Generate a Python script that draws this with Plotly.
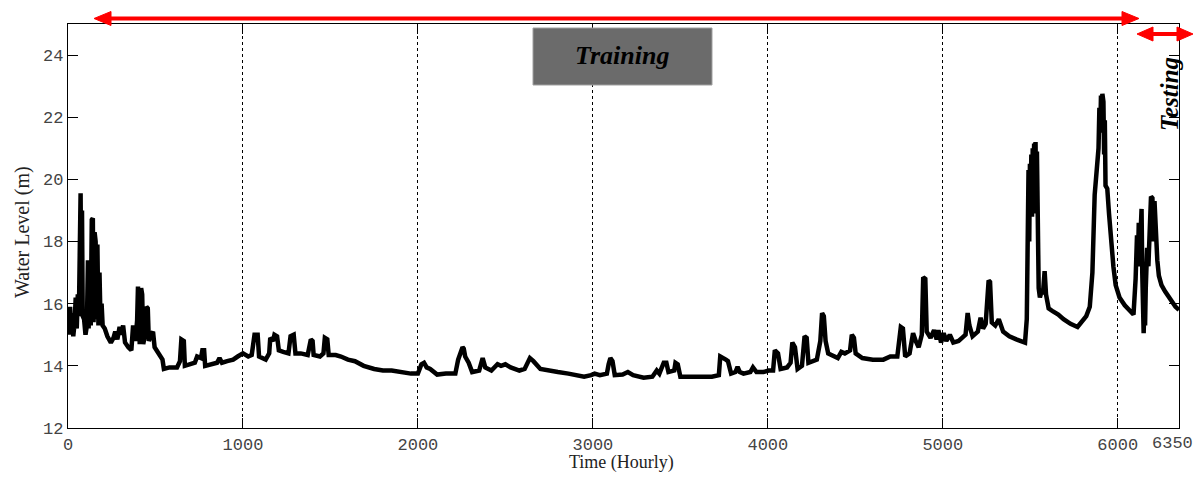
import plotly.graph_objects as go

# ---- data (hour, water level in m) ----
hours = [0, 6, 12, 18, 24, 30, 38, 44, 50, 56, 62, 66, 72, 76, 80, 84, 92, 100, 108, 114,
         118, 124, 130, 136, 142, 146, 152, 158, 162, 168, 174, 180, 186, 192, 198, 210, 225,
         245, 260, 270, 282, 295, 305, 315, 326, 345, 362, 372, 385, 395, 400, 410, 418, 424,
         430, 440, 448, 456, 462, 475, 486, 495, 510, 530, 540, 548, 580, 623, 640, 648, 662,
         668, 700, 725, 738, 760, 768, 778, 784, 820, 852, 866, 880, 910, 944, 970, 1000, 1030,
         1050, 1066, 1084, 1092, 1130, 1150, 1156, 1172, 1180, 1195, 1205, 1230, 1260, 1272,
         1290, 1300, 1330, 1370, 1388, 1398, 1404, 1440, 1460, 1468, 1482, 1490, 1530, 1560,
         1600, 1640, 1690, 1750, 1800, 1850, 1900, 1960, 2000, 2020, 2035, 2050, 2070, 2110,
         2160, 2214, 2230, 2255, 2262, 2270, 2290, 2310, 2350, 2370, 2385, 2420, 2455, 2475,
         2500, 2530, 2580, 2610, 2640, 2660, 2700, 2740, 2800, 2860, 2920, 2950, 2990, 3010,
         3040, 3080, 3090, 3100, 3112, 3125, 3170, 3200, 3230, 3290, 3340, 3365, 3380, 3405,
         3420, 3432, 3465, 3472, 3485, 3500, 3560, 3620, 3680, 3720, 3728, 3760, 3772, 3790,
         3815, 3827, 3840, 3861, 3900, 3915, 3935, 3975, 4004, 4030, 4040, 4058, 4073, 4110,
         4130, 4140, 4155, 4170, 4195, 4210, 4222, 4232, 4260, 4280, 4300, 4310, 4320, 4330,
         4345, 4380, 4400, 4420, 4440, 4470, 4480, 4492, 4502, 4540, 4600, 4660, 4700, 4740,
         4760, 4772, 4785, 4810, 4830, 4845, 4862, 4880, 4888, 4900, 4908, 4930, 4950, 4965,
         4975, 4990, 5005, 5020, 5040, 5060, 5090, 5110, 5130, 5142, 5152, 5170, 5200, 5216,
         5230, 5245, 5262, 5270, 5280, 5300, 5320, 5345, 5380, 5420, 5470, 5480, 5486, 5490,
         5494, 5498, 5502, 5506, 5510, 5514, 5518, 5522, 5526, 5530, 5534, 5538, 5542, 5548,
         5555, 5565, 5572, 5582, 5590, 5605, 5630, 5660, 5690, 5730, 5770, 5800, 5820, 5840,
         5855, 5868, 5880, 5890, 5895, 5900, 5904, 5908, 5912, 5918, 5922, 5926, 5930, 5940,
         5950, 5960, 5975, 5988, 6010, 6040, 6070, 6090, 6102, 6110, 6115, 6120, 6125, 6130,
         6136, 6140, 6144, 6148, 6152, 6156, 6160, 6168, 6175, 6182, 6190, 6198, 6205, 6210,
         6218, 6226, 6235, 6250, 6270, 6300, 6330, 6350]
level = [15.8, 15.0, 15.9, 15.1, 15.7, 14.95, 15.4, 16.2, 15.2, 16.3, 15.6, 19.5, 19.55, 16.0,
         19.0, 15.6, 15.5, 15.0, 15.3, 17.4, 15.2, 17.4, 15.3, 18.7, 18.75, 15.4, 18.3, 18.0,
         15.5, 17.9, 15.3, 17.0, 15.4, 16.0, 15.3, 15.2, 14.95, 14.75, 14.9, 15.1, 14.85, 15.25,
         15.0, 15.3, 14.75, 14.6, 14.5, 15.3, 14.8, 15.45, 16.55, 14.7, 16.5, 16.3, 14.7, 15.0,
         15.9, 15.85, 14.8, 15.0, 15.1, 14.6, 14.45, 14.3, 14.2, 13.9, 13.95, 13.95, 14.15, 14.85,
         14.8, 14.0, 14.05, 14.1, 14.3, 14.25, 14.5, 14.5, 14.0, 14.05, 14.1, 14.25, 14.1, 14.15,
         14.2, 14.3, 14.4, 14.3, 14.35, 15.0, 15.0, 14.3, 14.2, 14.4, 14.9, 14.8, 15.0, 14.95,
         14.5, 14.45, 14.4, 14.95, 15.0, 14.4, 14.4, 14.35, 14.85, 14.8, 14.35, 14.3, 14.4, 14.9,
         14.85, 14.35, 14.35, 14.3, 14.2, 14.15, 14.0, 13.9, 13.85, 13.85, 13.8, 13.75, 13.75,
         14.05, 14.1, 13.95, 13.9, 13.72, 13.75, 13.75, 14.2, 14.6, 14.55, 14.3, 14.1, 13.8,
         13.85, 14.25, 13.95, 13.85, 14.05, 14.0, 14.05, 13.95, 13.85, 13.9, 14.25, 14.15, 13.9,
         13.85, 13.8, 13.75, 13.7, 13.65, 13.7, 13.75, 13.7, 13.75, 14.05, 14.25, 14.15, 13.7,
         13.72, 13.8, 13.7, 13.62, 13.65, 13.85, 13.75, 14.1, 14.1, 13.8, 13.85, 14.1, 14.05,
         13.65, 13.65, 13.65, 13.65, 13.7, 14.3, 14.2, 14.15, 13.75, 13.8, 13.97, 13.8, 13.75,
         13.8, 13.95, 13.8, 13.8, 13.85, 13.85, 14.5, 14.4, 13.9, 13.95, 14.1, 14.75, 14.6, 13.9,
         14.0, 14.95, 14.9, 14.1, 14.15, 14.2, 14.8, 15.7, 15.6, 14.8, 14.4, 14.3, 14.25, 14.45,
         14.4, 14.5, 15.0, 14.9, 14.4, 14.25, 14.2, 14.2, 14.3, 14.3, 15.25, 15.2, 14.3, 14.4,
         15.05, 14.8, 14.6, 15.0, 16.85, 16.8, 15.1, 14.9, 15.15, 14.85, 15.15, 14.75, 15.05,
         14.8, 15.0, 14.75, 14.8, 14.9, 15.0, 15.7, 15.3, 14.95, 15.1, 15.55, 15.2, 15.35, 16.75,
         16.7, 15.4, 15.3, 15.5, 15.1, 14.95, 14.85, 14.75, 15.5, 17.6, 20.3, 18.0, 20.5, 19.2,
         20.8, 18.8, 21.0, 19.5, 21.15, 18.9, 21.2, 19.0, 20.9, 17.0, 16.5, 16.2, 16.4, 16.3,
         17.05, 16.3, 15.85, 15.75, 15.65, 15.5, 15.35, 15.25, 15.45, 15.6, 15.9, 17.0, 19.5,
         20.2, 21.0, 22.3, 21.5, 22.7, 21.8, 22.75, 22.5, 20.8, 21.9, 19.8, 19.7, 18.9, 18.0,
         17.2, 16.6, 16.2, 15.95, 15.75, 15.65, 16.8, 18.2, 17.2, 18.6, 17.5, 19.0, 19.05, 17.0,
         15.1, 15.05, 16.0, 15.3, 16.5, 17.8, 17.2, 18.8, 19.45, 19.4, 18.0, 19.3, 18.2, 17.4,
         16.9, 16.6, 16.4, 16.15, 15.9, 15.8]

x_ticks = [0, 1000, 2000, 3000, 4000, 5000, 6000, 6350]
y_ticks = [12, 14, 16, 18, 20, 22, 24]
x_title = "Time (Hourly)"
y_title = "Water Level (m)"
train_label = "Training"
test_label = "Testing"

# ---- layout geometry (screen pixels; page body has an 8px margin) ----
OFF = 8
SL, SR, ST, SB = 68, 1179, 24, 428          # plot area on screen
W, H = 1202 - 2 * OFF, 482 - 2 * OFF
L, T = SL - OFF, ST - OFF
R = W - (SR - OFF)
B = H - (SB - OFF)
PW, PH = SR - SL, SB - ST


def px(xs):
    return (xs - SL) / PW


def py(ys):
    return (SB - ys) / PH


RED = "rgb(255,0,0)"
SERIF = "Liberation Serif, Times New Roman, serif"
MONO = "Liberation Mono, Courier New, monospace"
TICKFONT = dict(family=MONO, size=17, color="#444")
XTITLEFONT = dict(family=SERIF, size=18, color="#222")
YTITLEFONT = dict(family=SERIF, size=20, color="#222")

fig = go.Figure()
fig.add_trace(go.Scatter(x=hours, y=level, mode="lines",
                         line=dict(color="black", width=4.5), hoverinfo="skip",
                         showlegend=False))

shapes = []


def arrow(x0, x1, yc, head_len, half_h):
    shapes.append(dict(type="line", xref="paper", yref="paper",
                       x0=px(x0 + head_len - 2), x1=px(x1 - head_len + 2),
                       y0=py(yc), y1=py(yc), line=dict(color=RED, width=4)))
    for tip, base in ((x0, x0 + head_len), (x1, x1 - head_len)):
        path = "M {} {} L {} {} L {} {} Z".format(px(tip), py(yc), px(base), py(yc - half_h),
                                                  px(base), py(yc + half_h))
        shapes.append(dict(type="path", xref="paper", yref="paper", path=path,
                           fillcolor=RED, line=dict(color=RED, width=1)))


arrow(94, 1139, 18.5, 17, 7)
arrow(1137, 1193, 34, 16, 7)

# Training box
shapes.append(dict(type="rect", xref="paper", yref="paper",
                   x0=px(533), x1=px(712), y0=py(85), y1=py(28),
                   fillcolor="#6b6b6b", line=dict(color="#a0a0a0", width=1), layer="above"))

# last tick label is placed by hand so it is not cut at the page edge
tick_text = [str(v) for v in x_ticks[:-1]] + [""]

annotations = [
    dict(text="<b><i>" + train_label + "</i></b>", xref="paper", yref="paper",
         x=px(622), y=py(56), showarrow=False,
         font=dict(family=SERIF, size=26, color="black"), xanchor="center", yanchor="middle"),
    dict(text="<b><i>" + test_label + "</i></b>", xref="paper", yref="paper",
         x=px(1169), y=py(94), showarrow=False, textangle=-90,
         font=dict(family=SERIF, size=25, color="black"), xanchor="center", yanchor="middle"),
    dict(text=str(x_ticks[-1]), xref="paper", yref="paper",
         x=px(1195), y=py(432), showarrow=False, xanchor="right", yanchor="top",
         font=TICKFONT),
    dict(text=x_title, xref="paper", yref="paper", x=px(621), y=py(462),
         showarrow=False, xanchor="center", yanchor="middle", font=XTITLEFONT),
    dict(text=y_title, xref="paper", yref="paper", x=px(22), y=py(232),
         showarrow=False, xanchor="center", yanchor="middle", textangle=-90,
         font=YTITLEFONT),
]

fig.update_layout(
    width=W, height=H,
    margin=dict(l=L, r=R, t=T, b=B, pad=0, autoexpand=False),
    paper_bgcolor="white", plot_bgcolor="white",
    shapes=shapes, annotations=annotations,
    xaxis=dict(range=[0, 6350], tickvals=x_ticks, ticktext=tick_text,
               ticks="inside", ticklen=10, tickcolor="black", tickwidth=1,
               showline=True, linecolor="black", linewidth=1.3, mirror="ticks",
               showgrid=True, gridcolor="black", gridwidth=1, griddash="3px,3px",
               zeroline=False, automargin=False, ticklabeloverflow="allow",
               tickfont=TICKFONT),
    yaxis=dict(range=[12, 25], tickvals=y_ticks,
               ticks="inside", ticklen=10, tickcolor="black", tickwidth=1,
               showline=True, linecolor="black", linewidth=1.3, mirror="ticks",
               showgrid=False, zeroline=False, automargin=False,
               tickfont=TICKFONT),
)

fig.write_html("out.html")
